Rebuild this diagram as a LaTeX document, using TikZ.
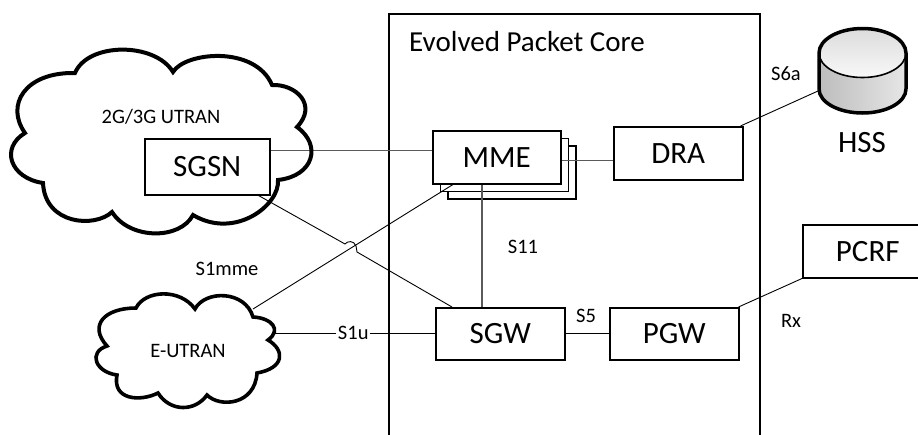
\documentclass[tikz,border=0pt]{standalone}
\usepackage{fontspec}
\setmainfont{Carlito}
\usetikzlibrary{calc}
\definecolor{linkgray}{HTML}{5A5A5A}
\definecolor{drumtop}{HTML}{DCDCDC}
\definecolor{drumlow}{HTML}{F8F8F8}
\definecolor{drumside}{HTML}{BDBDBD}
\definecolor{drummid}{HTML}{E6E6E6}
\tikzset{
  box/.style={draw=black,line width=1.5pt,fill=white,inner sep=0pt,font=\fontsize{31}{34}\selectfont,anchor=north west},
  link/.style={draw=black,line width=0.9pt},
  graylink/.style={draw=linkgray,line width=1.3pt},
  cloudline/.style={draw=black,line width=4pt,line join=miter},
  small/.style={font=\fontsize{20.5}{23}\selectfont,inner sep=0pt},
  core/.style={draw=black,line width=2pt},
}
\begin{document}
\begin{tikzpicture}[x=1pt,y=-1pt]
\useasboundingbox (0,0) rectangle (918,434);
\fill[white] (0,0) rectangle (918,434);
% core frame
\draw[core] (389,440) -- (389,14) -- (760,14) -- (760,440);
\node[font=\fontsize{29}{32}\selectfont,inner sep=0pt] (corelabel) at (527,42) {Evolved Packet Core};
% stacked MME
\node[box,minimum width=128pt,minimum height=53pt] (mmec) at (447,145) {};
\node[box,minimum width=128pt,minimum height=53pt] (mmeb) at (439.5,137.5) {};
\node[box,minimum width=128pt,minimum height=53pt] (mme) at (432,130) {MME};
\node[box,minimum width=129pt,minimum height=53pt] (dra) at (613,126) {DRA};
\node[box,minimum width=125pt,minimum height=56pt] (sgsn) at (144,138) {SGSN};
\node[box,minimum width=129pt,minimum height=52pt] (sgw) at (435,307) {SGW};
\node[box,minimum width=129pt,minimum height=52pt] (pgw) at (609,307) {PGW};
\node[box,minimum width=130pt,minimum height=53pt] (pcrf) at (802,224) {PCRF};
% anchors without a box of their own
\coordinate (hssport) at (818,91);
\coordinate (eutranne) at (253,309);
\coordinate (eutrane) at (275,333);
\coordinate (hopa) at (345,244);
\coordinate (hopb) at (357,252);
% connectors
\draw[graylink] ([yshift=6.5pt]mme.west -| sgsn.east) -- ([yshift=6.5pt]mme.west);
\draw[graylink] ([yshift=-3.5pt]mme.east) -- ([yshift=-7.5pt]dra.west);
\draw[link] ([xshift=-3pt]dra.north east) -- (hssport);
\draw[graylink,line width=1.1pt] (mme.south -| 482,0) -- (sgw.north -| 482,0);
\draw[link] ([xshift=-12pt]sgsn.south east) -- (hopa)
  .. controls (347,241) and (354,240) .. (356,246) -- (hopb)
  -- ([xshift=17pt]sgw.north west);
\draw[link] (eutranne) -- ([xshift=21pt]mme.south west);
\draw[link] (eutrane) -- (eutrane -| sgw.west) node[pos=0.489,fill=white,small,inner xsep=1.5pt] (sou) {S1u};
\draw[link] (sgw.east) -- (pgw.west);
\draw[link] ([xshift=-1pt]pgw.north east) -- (pcrf.south west);
% big cloud
\draw[cloudline] (75,73)
  .. controls (88,42) and (155,42) .. (173,72)
  .. controls (185,52) and (255,45) .. (272,85)
  .. controls (296,84) and (318,105) .. (297,127)
  .. controls (322,145) and (314,176) .. (278,180)
  .. controls (280,205) and (235,240) .. (193,215)
  .. controls (180,240) and (130,240) .. (112,212)
  .. controls (95,228) and (45,225) .. (43,183)
  .. controls (10,178) and (0,148) .. (25,133)
  .. controls (5,105) and (25,72) .. cycle;
% small cloud
\draw[cloudline,line width=3.6pt] (136,308)
  .. controls (145,290) and (180,288) .. (195,309)
  .. controls (205,290) and (245,290) .. (253,317)
  .. controls (272,318) and (282,330) .. (268,340)
  .. controls (285,350) and (285,368) .. (257,373)
  .. controls (255,405) and (220,408) .. (207,395)
  .. controls (195,412) and (170,412) .. (158,393)
  .. controls (140,402) and (112,400) .. (117,375)
  .. controls (95,372) and (88,352) .. (107,346)
  .. controls (88,325) and (105,308) .. cycle;
% HSS drum
\path[left color=drumside,right color=drummid] (819,53) -- (819,89) arc[x radius=43.5,y radius=24,start angle=180,end angle=0] -- (906,53) -- cycle;
\path[top color=drumtop,bottom color=drumlow] (862.5,53) ellipse[x radius=43.5,y radius=24.5];
\draw[black,line width=1.6pt] (819,53) arc[x radius=43.5,y radius=24.5,start angle=180,end angle=0];
\draw[black,line width=3.5pt] (819,89) -- (819,53) arc[x radius=43.5,y radius=24.5,start angle=180,end angle=360] -- (906,89);
\draw[black,line width=3.5pt] (819,89) arc[x radius=43.5,y radius=24,start angle=180,end angle=0];
% labels
\node[font=\fontsize{31}{34}\selectfont,inner sep=0pt] (hss) at (862,143) {HSS};
\node[small] (utran) at (161,117) {2G/3G UTRAN};
\node[small] (eutran) at (188,351) {E-UTRAN};
\node[small] (sonemme) at (227,269) {S1mme};
\node[small] (seleven) at (523,247) {S11};
\node[small] (sfive) at (586,316) {S5};
\node[small] (sixa) at (786,74) {S6a};
\node[small] (rx) at (791,321) {Rx};
\end{tikzpicture}
\end{document}
